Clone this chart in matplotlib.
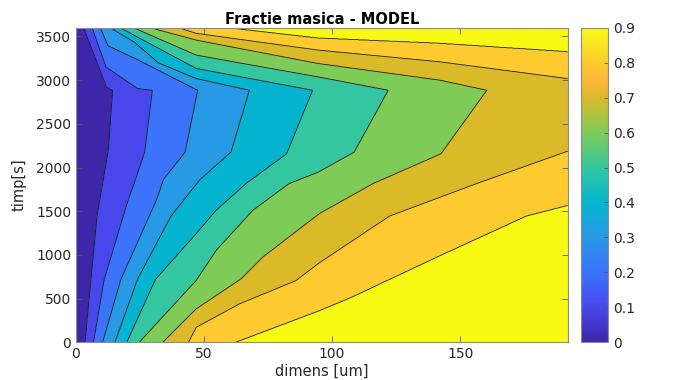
import numpy as np
import matplotlib
matplotlib.use("Agg")
import matplotlib.pyplot as plt
from matplotlib.colors import LinearSegmentedColormap, Normalize
from matplotlib.cm import ScalarMappable

plt.rcParams['font.family'] = ['DejaVu Sans']

# contour positions: for each level, time [s] and x [um]
# (x > 192 means the line is outside the plotted range)
lv1_t = [0, 1450, 1840, 2200, 2884, 2915, 3600]
lv1_x = [3.5, 8.2, 10.5, 12.6, 14.3, 12.0, 3.0]
lv2_t = [0, 720, 1633, 1800, 2176, 2884, 2903, 3152, 3600]
lv2_x = [6.8, 11.0, 20.4, 22.5, 26.8, 29.8, 24.0, 11.6, 6.3]
lv3_t = [0, 720, 1633, 1862, 2176, 2884, 3240, 3392, 3600]
lv3_x = [10.4, 17.5, 31.5, 34.1, 42.6, 47.5, 23.7, 12.5, 9.4]
lv4_t = [0, 720, 1440, 1862, 2176, 2884, 3018, 3200, 3431, 3600]
lv4_x = [15.2, 24.0, 37.0, 48.4, 60.5, 67.7, 46.9, 32.0, 23.0, 13.3]
lv5_t = [0, 720, 1243, 1510, 1817, 2157, 2884, 3133, 3600]
lv5_x = [19.8, 31.0, 46.9, 54.7, 66.4, 82.2, 92.4, 46.9, 17.2]
lv6_t = [0, 707, 1051, 1510, 1817, 1946, 2176, 2884, 3037, 3286, 3600]
lv6_x = [24.7, 46.9, 54.7, 69.0, 83.2, 94.5, 108.6, 121.9, 94.5, 46.9, 22.4]
lv7_t = [0, 382, 727, 975, 1472, 1817, 2157, 2884, 2999, 3190, 3458, 3600]
lv7_x = [33.9, 46.9, 64.5, 72.9, 95.0, 116.0, 142.5, 160.4, 142.2, 94.5, 46.9, 29.0]
lv8_t = [0, 172, 440, 707, 899, 1446, 1817, 2187, 2600, 3018, 3209, 3343, 3535, 3600]
lv8_x = [43.9, 46.9, 63.8, 85.9, 94.5, 122.5, 156.5, 192.0, 215.0, 192.0, 142.2, 94.5, 46.9, 40.0]
lv9_t = [0, 363, 516, 994, 1446, 1568, 2187, 2600, 3018, 3324, 3420, 3480, 3600]
lv9_x = [62.1, 95.0, 107.5, 142.2, 175.8, 192.0, 225.0, 240.0, 225.0, 192.0, 142.2, 94.5, 58.6]

levels = [0.1, 0.2, 0.3, 0.4, 0.5, 0.6, 0.7, 0.8, 0.9]
lines_t = [lv1_t, lv2_t, lv3_t, lv4_t, lv5_t, lv6_t, lv7_t, lv8_t, lv9_t]
lines_x = [lv1_x, lv2_x, lv3_x, lv4_x, lv5_x, lv6_x, lv7_x, lv8_x, lv9_x]

band_colors = ['#3e26a8', '#4747eb', '#3b73fb', '#2899e4', '#07b4d0',
               '#34c6a0', '#7fcb58', '#dbba29', '#fdca2f', '#f9fa14']
bar_pos = [0.0, 1/9, 2/9, 3/9, 4/9, 5/9, 6/9, 7/9, 0.833, 8/9, 1.0]
bar_colors = ['#3e26a8', '#4747eb', '#3b73fb', '#2899e4', '#07b4d0',
              '#34c6a0', '#7fcb58', '#dbba29', '#fbb83a', '#fdca2f', '#f9fa14']

x_max, t_max = 192, 3600

# build the grid row by row from the read contour positions
x = np.linspace(0, x_max, 769)
t = np.linspace(0, t_max, 721)
Z = np.zeros((len(t), len(x)))
for i, ti in enumerate(t):
    xc = [np.interp(ti, lt, lx) for lt, lx in zip(lines_t, lines_x)]
    Z[i] = np.interp(x, [-1.0] + xc + [1000.0], [0.0] + levels + [1.0])

fig = plt.figure(figsize=(6.91, 3.80), dpi=100)
ax = fig.add_axes([76/691, 37.7/380, 491.7/691, 314.6/380])

ax.contourf(x, t, Z, levels=[-0.01] + levels + [1.01], colors=band_colors)
ax.contour(x, t, Z, levels=levels, colors='#1a1a1a', linewidths=0.6)

ax.set_xlim(0, x_max)
ax.set_ylim(0, t_max)
ax.set_xticks([0, 50, 100, 150])
ax.set_yticks(np.arange(0, 3501, 500))
ax.tick_params(direction='in', top=True, right=True, length=4, width=0.6,
               labelsize=10, colors='#555555', labelcolor='#262626')
for s in ax.spines.values():
    s.set_color('#8c8c8c')
    s.set_linewidth(0.8)

ax.set_title('Fractie masica - MODEL', fontsize=10.5, fontweight='bold', pad=3)
ax.set_xlabel('dimens [um]', fontsize=10.5, color='#262626', labelpad=2)
ax.set_ylabel('timp[s]', fontsize=10.5, color='#262626', labelpad=7)

cax = fig.add_axes([581/691, 37.7/380, 27/691, 314.6/380])
parula = LinearSegmentedColormap.from_list('parula_like', list(zip(bar_pos, bar_colors)))
sm = ScalarMappable(norm=Normalize(0, 0.9), cmap=parula)
cb = fig.colorbar(sm, cax=cax)
cb.set_ticks(np.round(np.arange(0, 0.91, 0.1), 1))
cb.set_ticklabels(['0', '0.1', '0.2', '0.3', '0.4', '0.5', '0.6', '0.7', '0.8', '0.9'])
cax.tick_params(direction='in', length=3, width=0.6, labelsize=10,
                colors='#555555', labelcolor='#262626')
cb.outline.set_edgecolor('#8c8c8c')
cb.outline.set_linewidth(0.8)

fig.savefig('out.png', dpi=100)
